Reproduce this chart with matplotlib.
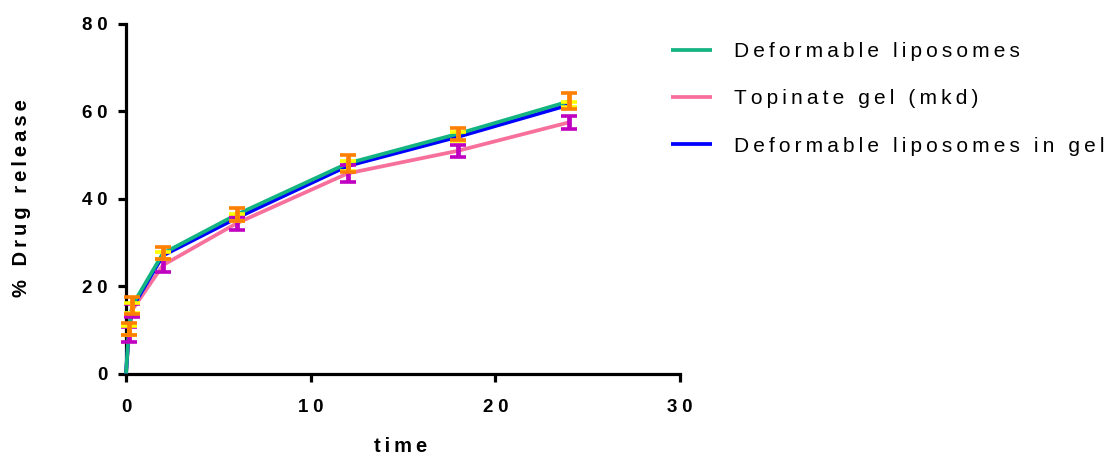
import matplotlib
matplotlib.use("Agg")
import matplotlib.pyplot as plt
from matplotlib.ticker import FuncFormatter

# Release data (time in h, % drug released, mean and error)
time = [0, 0.16, 0.33, 2, 6, 12, 18, 24]

dl_mean = [0, 10.2, 15.5, 27.5, 36.4, 48.1, 54.9, 62.3]
dl_err = [0, 1.3, 1.9, 1.4, 1.5, 1.9, 1.4, 1.8]

gel_mean = [0, 9.0, 14.5, 24.8, 34.4, 45.8, 51.0, 57.5]
gel_err = [0, 1.7, 1.5, 1.5, 1.5, 1.9, 1.4, 1.5]

dlgel_mean = [0, 9.8, 15.0, 27.0, 35.6, 47.5, 54.2, 61.5]
dlgel_err = [0, 1.0, 1.2, 0.8, 0.8, 1.2, 1.0, 0.6]

labels = ["Deformable liposomes", "Topinate gel (mkd)", "Deformable liposomes in gel"]
line_colors = ["#14B482", "#F7709C", "#0000FF"]
err_colors = ["#FF8000", "#C000C0", "#FFFF00"]

x_ticks = [0, 10, 20, 30]
y_ticks = [0, 20, 40, 60, 80]

FONT = ["Liberation Sans", "DejaVu Sans"]
plt.rcParams["font.family"] = FONT


def spaced(text, gap="\u2009"):
    return gap.join(text)


fig = plt.figure(figsize=(11.11, 4.55), dpi=100)
ax = fig.add_axes([126 / 1111, 1 - 373.5 / 455, (680 - 126) / 1111, (373.5 - 24) / 455])

series = [
    (dl_mean, dl_err, 0, 4, 7),
    (gel_mean, gel_err, 1, 2, 5),
    (dlgel_mean, dlgel_err, 2, 3, 6),
]
handles = []
for mean, err, i, zl, ze in series:
    h, = ax.plot(time, mean, color=line_colors[i], lw=2.7, zorder=zl,
                 clip_on=False, solid_capstyle="butt", label=labels[i])
    handles.append(h)
    ax.errorbar(time[1:], mean[1:], yerr=err[1:], fmt="none",
                ecolor=err_colors[i], elinewidth=3.4, capsize=5.5,
                capthick=2.6, zorder=ze, clip_on=False)

ax.set_xlim(0, 30)
ax.set_ylim(0, 80)
ax.set_xticks(x_ticks)
ax.set_yticks(y_ticks)
fmt = FuncFormatter(lambda v, p: spaced(f"{v:.0f}", "\u2005"))
ax.xaxis.set_major_formatter(fmt)
ax.yaxis.set_major_formatter(fmt)

for side in ("top", "right"):
    ax.spines[side].set_visible(False)
for side in ("left", "bottom"):
    ax.spines[side].set_linewidth(2.3)
    ax.spines[side].set_capstyle("projecting")

ax.tick_params(axis="both", direction="out", length=6, width=2.3,
               labelsize=13.5)
ax.tick_params(axis="x", pad=12)
ax.tick_params(axis="y", pad=7)
for t in ax.get_xticklabels() + ax.get_yticklabels():
    t.set_fontweight("bold")

fig.text(22 / 1111, 1 - 198 / 455, spaced("% Drug release"), rotation=90,
         ha="center", va="center", fontsize=14.5, fontweight="bold")
fig.text(401 / 1111, 1 - 447 / 455, spaced("time"), ha="center",
         va="center", fontsize=14.5, fontweight="bold")

fig.legend(handles=handles, labels=[spaced(l) for l in labels],
           loc="upper left", bbox_to_anchor=(671 / 1111, 1 - 42 / 455),
           frameon=False, fontsize=15, handlelength=1.95, handletextpad=1.05,
           labelspacing=1.36, borderaxespad=0, borderpad=0)

fig.savefig("out.png", dpi=100)
